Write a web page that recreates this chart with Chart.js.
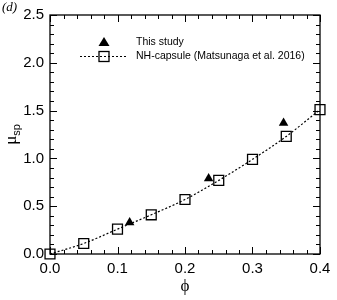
<!DOCTYPE html>
<html>
<head>
<meta charset="utf-8">
<script src="https://cdn.jsdelivr.net/npm/chart.js@4/dist/chart.umd.min.js"></script>
<style>
  html, body { margin: 0; padding: 0; background: #fff; }
  #wrap { width: 337px; height: 300px; }
</style>
</head>
<body>
<div id="wrap"><canvas id="chart" width="337" height="300"></canvas></div>
<script>
// NH-capsule reference (Matsunaga et al. 2016)
const phiRef = [0, 0.05, 0.1, 0.15, 0.2, 0.25, 0.3, 0.35, 0.4];
const muRef = [0, 0.11, 0.26, 0.41, 0.57, 0.77, 0.99, 1.23, 1.51];

// This study
const phiStudy = [0.118, 0.235, 0.346];
const muStudy = [0.33, 0.79, 1.37];

// axis ticks
const xTicks = [0, 0.1, 0.2, 0.3, 0.4];
const yTicks = [0, 0.5, 1.0, 1.5, 2.0, 2.5];

const legendLabels = ['This study', 'NH-capsule (Matsunaga et al. 2016)'];

const toPoints = (xs, ys) => xs.map((x, i) => ({ x, y: ys[i] }));

// inward ticks on all four sides + closing frame, title letter, axis titles, legend
const framePlugin = {
    id: 'frame',
    afterDraw(chart) {
        const { ctx, chartArea: a, scales } = chart;
        const xs = scales.x, ys = scales.y;
        ctx.save();
        ctx.strokeStyle = '#000';
        ctx.lineWidth = 1.3;
        ctx.strokeRect(a.left, a.top, a.right - a.left, a.bottom - a.top);

        ctx.lineWidth = 1;
        ctx.beginPath();
        // x ticks: minor every 0.02
        for (let i = 0; i <= 20; i++) {
            const v = i * 0.02;
            const px = Math.round(xs.getPixelForValue(v)) + 0.5;
            const len = i % 5 === 0 ? 7 : 4;
            ctx.moveTo(px, a.bottom); ctx.lineTo(px, a.bottom - len);
            ctx.moveTo(px, a.top); ctx.lineTo(px, a.top + len);
        }
        // y ticks: minor every 0.1
        for (let i = 0; i <= 25; i++) {
            const v = i * 0.1;
            const py = Math.round(ys.getPixelForValue(v)) + 0.5;
            const len = i % 5 === 0 ? 7 : 4;
            ctx.moveTo(a.left, py); ctx.lineTo(a.left + len, py);
            ctx.moveTo(a.right, py); ctx.lineTo(a.right - len, py);
        }
        ctx.stroke();

        ctx.fillStyle = '#000';
        // panel label
        ctx.font = 'italic 13px "Liberation Serif"';
        ctx.textAlign = 'left';
        ctx.textBaseline = 'middle';
        ctx.fillText('(d)', 2, 8);

        // x title
        ctx.font = '17px "Liberation Serif"';
        ctx.textAlign = 'center';
        ctx.fillText('\u03D5', (a.left + a.right) / 2, 287);

        // y title, rotated: mu with subscript sp
        ctx.save();
        ctx.translate(12, (a.top + a.bottom) / 2);
        ctx.rotate(-Math.PI / 2);
        ctx.textAlign = 'left';
        ctx.font = '17px "Liberation Serif"';
        const muW = ctx.measureText('\u03BC').width;
        ctx.font = '11px "Liberation Sans"';
        const spW = ctx.measureText('sp').width;
        const start = -(muW + spW) / 2;
        ctx.font = '17px "Liberation Serif"';
        ctx.fillText('\u03BC', start, 0);
        ctx.font = '11px "Liberation Sans"';
        ctx.fillText('sp', start + muW, 5);
        ctx.restore();

        // legend
        ctx.font = '10.5px "Liberation Sans"';
        ctx.textAlign = 'left';
        ctx.textBaseline = 'middle';
        const lx = 104, ly1 = 42, ly2 = 56;
        // triangle marker
        ctx.beginPath();
        ctx.moveTo(lx, ly1 - 5);
        ctx.lineTo(lx + 5.5, ly1 + 4);
        ctx.lineTo(lx - 5.5, ly1 + 4);
        ctx.closePath();
        ctx.fill();
        ctx.fillText(legendLabels[0], 136, ly1);
        // dashed line + square
        ctx.setLineDash([2, 2]);
        ctx.lineWidth = 1.2;
        ctx.beginPath();
        ctx.moveTo(80, ly2 + 0.5); ctx.lineTo(127, ly2 + 0.5);
        ctx.stroke();
        ctx.setLineDash([]);
        ctx.lineWidth = 1.3;
        ctx.strokeRect(lx - 5, ly2 - 4.5, 10, 10);
        ctx.fillText(legendLabels[1], 136, ly2);
        ctx.restore();
    }
};

const ctx = document.getElementById('chart').getContext('2d');
new Chart(ctx, {
    type: 'scatter',
    data: {
        datasets: [
            {
                label: legendLabels[1],
                data: toPoints(phiRef, muRef),
                showLine: true,
                borderColor: '#000',
                borderWidth: 1.2,
                borderDash: [2, 2],
                cubicInterpolationMode: 'monotone',
                pointStyle: 'rect',
                pointRadius: 7,
                pointBorderWidth: 1.3,
                pointBorderColor: '#000',
                pointBackgroundColor: 'rgba(0,0,0,0)',
                clip: false
            },
            {
                label: legendLabels[0],
                data: toPoints(phiStudy, muStudy),
                pointStyle: 'triangle',
                pointRadius: 5.5,
                pointBorderWidth: 0,
                pointBackgroundColor: '#000',
                pointBorderColor: '#000',
                clip: false
            }
        ]
    },
    options: {
        responsive: false,
        animation: false,
        layout: { padding: { left: 0, right: 17, top: 15, bottom: 0 } },
        plugins: { legend: { display: false }, tooltip: { enabled: false } },
        scales: {
            x: {
                type: 'linear',
                min: 0,
                max: 0.4,
                afterBuildTicks: s => { s.ticks = xTicks.map(v => ({ value: v })); },
                afterFit: s => { s.height = 46; },
                grid: { display: false, drawTicks: false },
                border: { display: false },
                ticks: {
                    padding: 6,
                    color: '#000',
                    maxRotation: 0,
                    font: { family: '"Liberation Sans"', size: 15 },
                    callback: v => v.toFixed(1)
                }
            },
            y: {
                type: 'linear',
                min: 0,
                max: 2.5,
                afterBuildTicks: s => { s.ticks = yTicks.map(v => ({ value: v })); },
                afterFit: s => { s.width = 50; },
                grid: { display: false, drawTicks: false },
                border: { display: false },
                ticks: {
                    padding: 6,
                    color: '#000',
                    font: { family: '"Liberation Sans"', size: 15 },
                    callback: v => v.toFixed(1)
                }
            }
        }
    },
    plugins: [framePlugin]
});
</script>
</body>
</html>
